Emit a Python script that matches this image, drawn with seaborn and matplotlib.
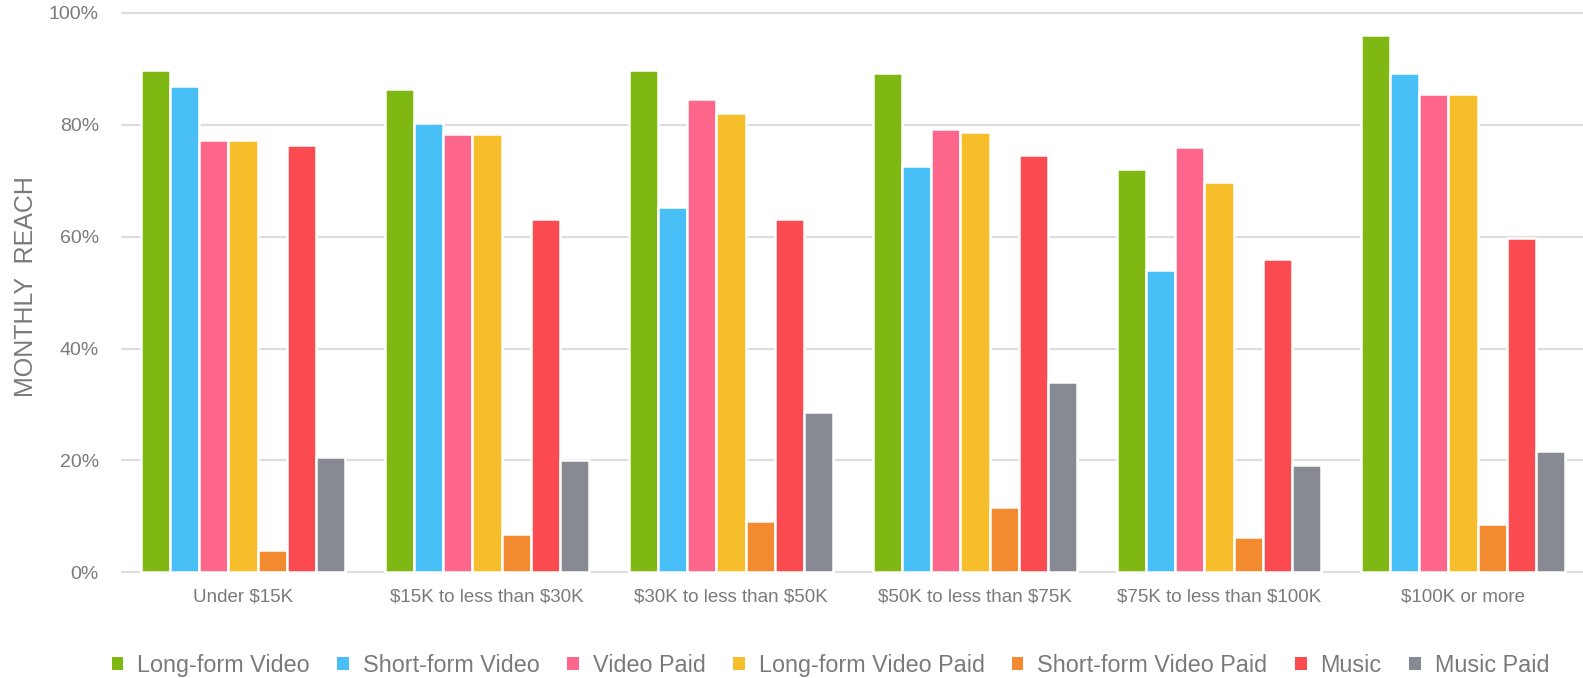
import matplotlib
matplotlib.use("Agg")
import matplotlib.pyplot as plt
from matplotlib.patches import Patch
from matplotlib.ticker import FuncFormatter
import seaborn as sns
import pandas as pd

# Household income groups along the x axis
income_groups = [
    "Under $15K",
    "$15K to less than $30K",
    "$30K to less than $50K",
    "$50K to less than $75K",
    "$75K to less than $100K",
    "$100K or more",
]

# Services shown for each income group
services = [
    "Long-form Video",
    "Short-form Video",
    "Video Paid",
    "Long-form Video Paid",
    "Short-form Video Paid",
    "Music",
    "Music Paid",
]

# Monthly reach (%) per service, one value per income group
long_form_video = [89.8, 86.4, 89.8, 89.3, 72.1, 96.1]
short_form_video = [86.9, 80.3, 65.4, 72.6, 54.0, 89.3]
video_paid = [77.3, 78.3, 84.6, 79.3, 76.0, 85.5]
long_form_video_paid = [77.3, 78.3, 82.1, 78.8, 69.7, 85.5]
short_form_video_paid = [4.0, 6.8, 9.2, 11.6, 6.3, 8.7]
music = [76.4, 63.1, 63.1, 74.6, 56.0, 59.7]
music_paid = [20.6, 20.1, 28.7, 34.0, 19.2, 21.6]

service_colors = ["#7FB812", "#48BFF6", "#FF668B", "#F6BE2A",
                  "#F28B30", "#FB4B51", "#878A92"]

series = [long_form_video, short_form_video, video_paid, long_form_video_paid,
          short_form_video_paid, music, music_paid]
rows = []
for name, values in zip(services, series):
    for group, v in zip(income_groups, values):
        rows.append({"group": group, "service": name, "reach": v})
df = pd.DataFrame(rows)

sns.set_theme(style="white")
plt.rcParams["font.family"] = ["Liberation Sans", "DejaVu Sans"]
plt.rcParams["text.parse_math"] = False
text_gray = "#7A7A7A"

W, H = 1583, 678
fig = plt.figure(figsize=(W / 100, H / 100), dpi=100)
ax_left, ax_right = 121, 1585
ax_top, ax_bottom = 7.4, 575.1
ax = fig.add_axes([ax_left / W, 1 - ax_bottom / H,
                   (ax_right - ax_left) / W, (ax_bottom - ax_top) / H])

sns.barplot(data=df, x="group", y="reach", hue="service",
            order=income_groups, hue_order=services,
            palette=service_colors, width=0.84, saturation=1,
            edgecolor="white", linewidth=1.8, legend=False, ax=ax, zorder=3)

ax.set_ylim(-0.5, 101)
ax.set_xlim(-0.5, len(income_groups) - 0.5)
ax.set_yticks([0, 20, 40, 60, 80, 100])
ax.yaxis.set_major_formatter(FuncFormatter(lambda v, _: f"{v:.0f}%"))
ax.grid(axis="y", color="#DDDDDD", linewidth=1.6, zorder=0)
ax.grid(axis="x", visible=False)
ax.set_axisbelow(True)
for s in ax.spines.values():
    s.set_visible(False)

ax.tick_params(axis="y", length=0, pad=16, labelsize=14, labelcolor=text_gray)
ax.tick_params(axis="x", length=0, pad=10, labelsize=13.5, labelcolor=text_gray)
ax.set_xlabel("")
ax.set_ylabel("MONTHLY  REACH", fontsize=18, color=text_gray, va="center")
ax.yaxis.set_label_coords(-0.065, 0.508)

handles = [Patch(facecolor=c, edgecolor="none", label=n)
           for c, n in zip(service_colors, services)]
fig.legend(handles=handles, loc="center", bbox_to_anchor=(0.5246, 0.019),
           ncol=7, frameon=False, fontsize=16.8, labelcolor=text_gray,
           handlelength=0.5, handleheight=0.5, handletextpad=0.6,
           columnspacing=1.17)

fig.savefig("out.png", dpi=100, facecolor="white")
